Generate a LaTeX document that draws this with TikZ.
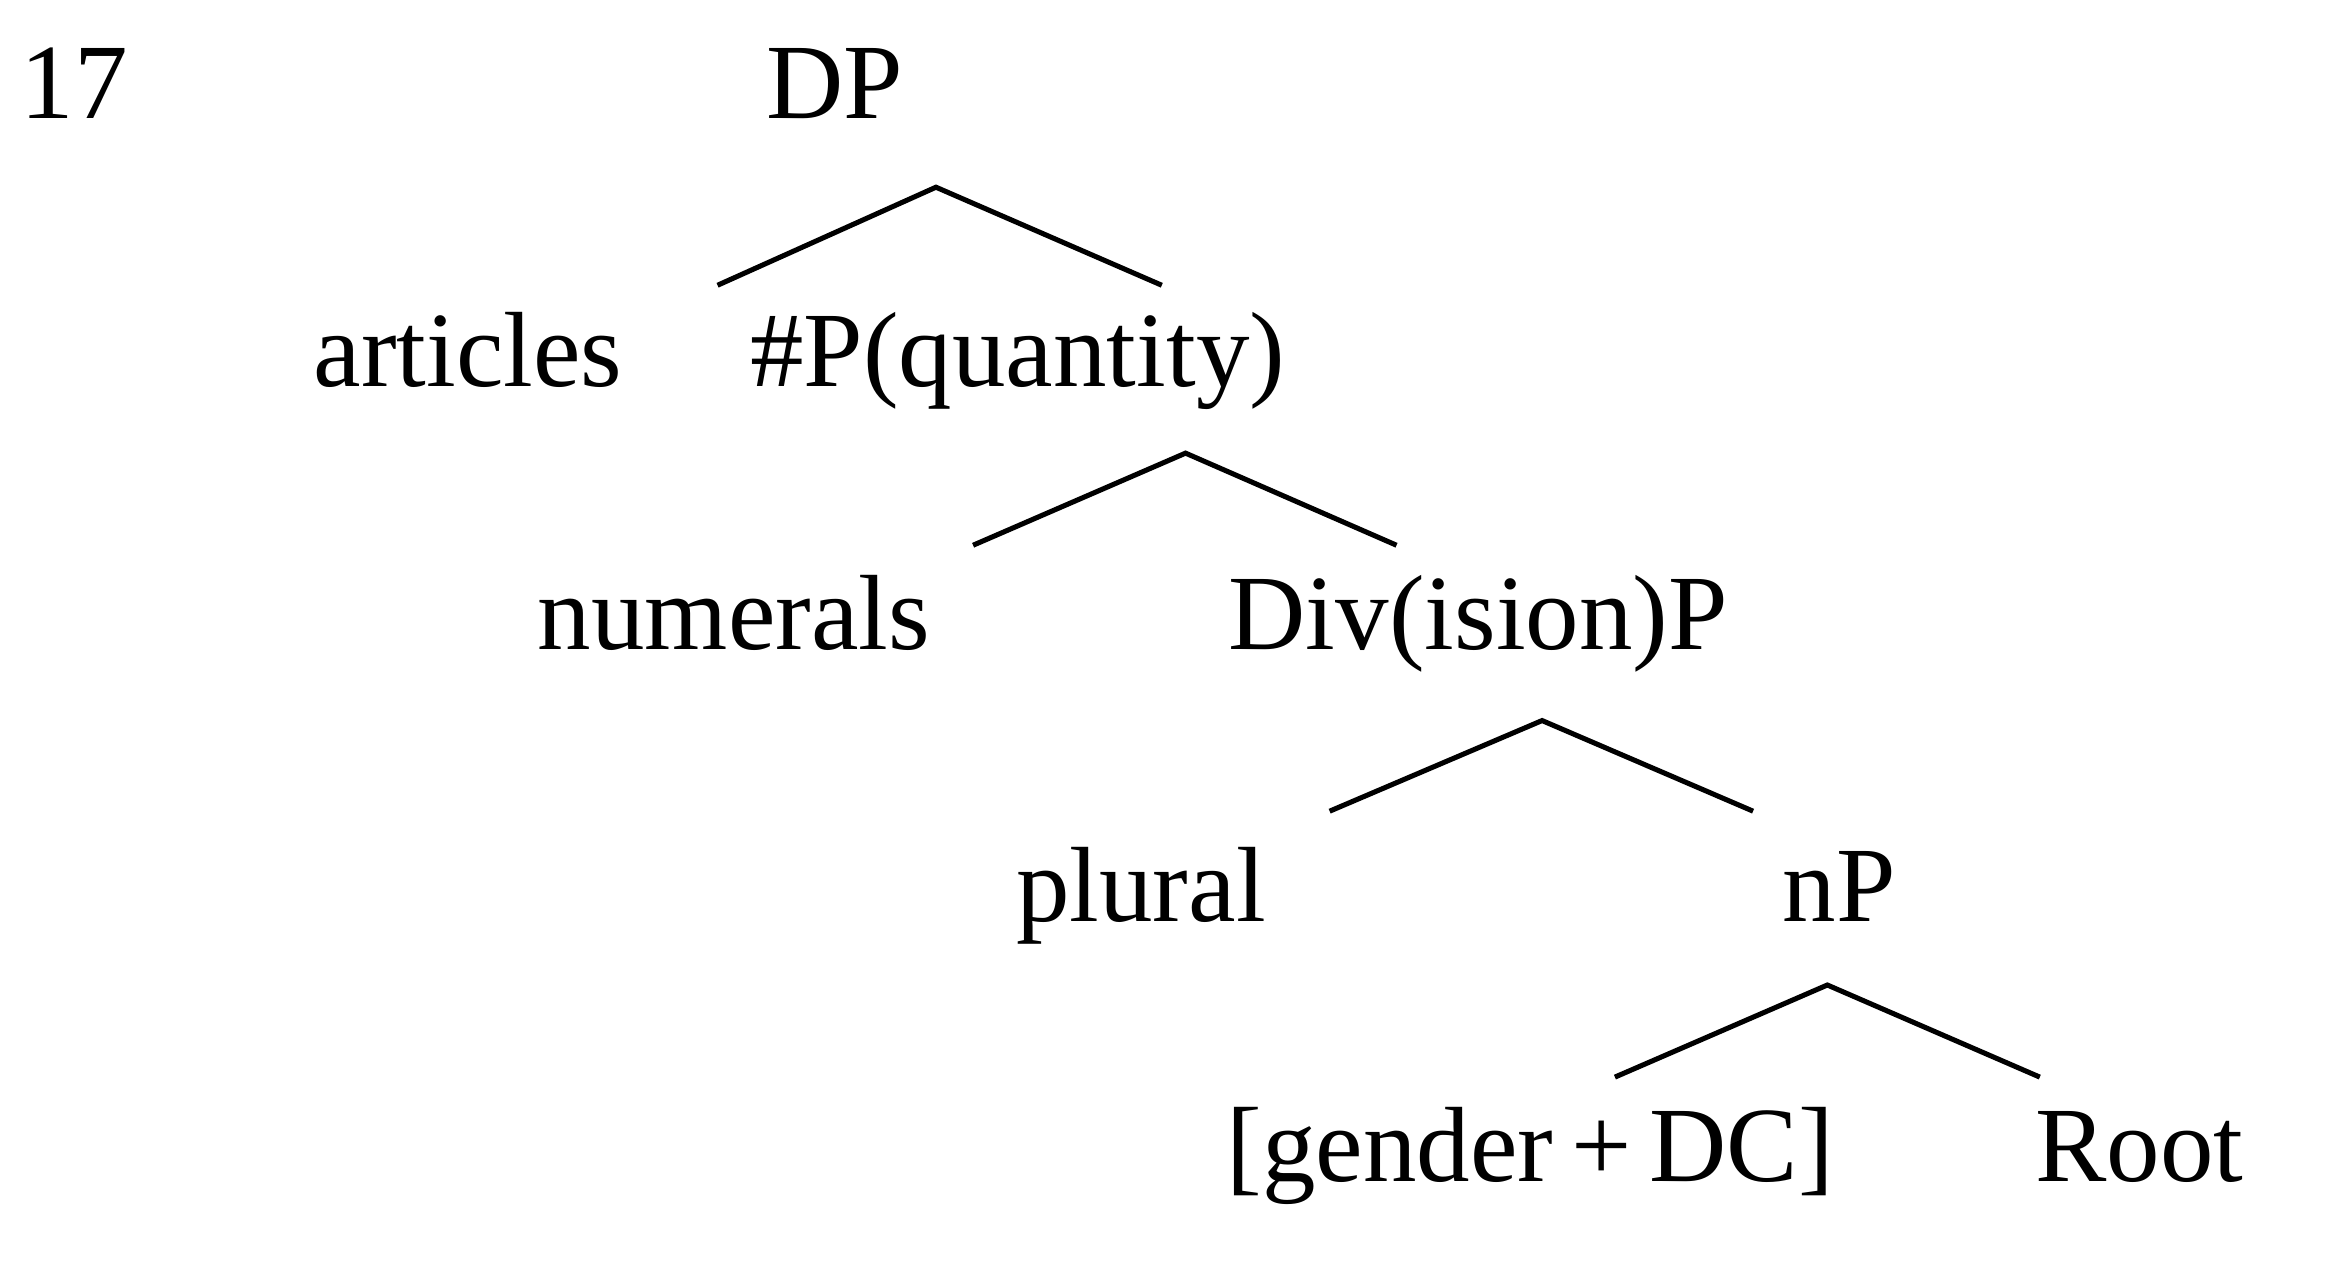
\documentclass[tikz,border=0pt]{standalone}
\usepackage{fontspec}
\setmainfont{Liberation Serif}
\begin{document}
\begin{tikzpicture}[x=0.5pt,y=-0.5pt,
  lab/.style={anchor=base,inner sep=0pt,font=\fontsize{36}{42}\selectfont},
  br/.style={line width=1.7pt}]
\useasboundingbox[fill=white] (0,0) rectangle (1567,858);
\node[lab] (n17) at (50,80) {17};
\node[lab] (dp) at (562,80) {DP};
\node[lab] (art) at (315,260) {articles};
\node[lab] (qp) at (685,260) {\#P(quantity)};
\node[lab] (num) at (494,437) {numerals};
\node[lab] (div) at (995,437) {Div(ision)P};
\node[lab] (pl) at (768,620) {plural};
\node[lab] (np) at (1238,620) {nP};
\node[lab] (gen) at (1030,795) {[gender\,+\,DC]};
\node[lab] (root) at (1440,795) {Root};
\coordinate (a0) at (630,126); \coordinate (a1) at (483,192); \coordinate (a2) at (782,192);
\coordinate (b0) at (798,305); \coordinate (b1) at (655,367); \coordinate (b2) at (940,367);
\coordinate (c0) at (1038,485); \coordinate (c1) at (895,546); \coordinate (c2) at (1180,546);
\coordinate (d0) at (1230,663); \coordinate (d1) at (1087,725); \coordinate (d2) at (1373,725);
\draw[br] (a1) -- (a0) -- (a2);
\draw[br] (b1) -- (b0) -- (b2);
\draw[br] (c1) -- (c0) -- (c2);
\draw[br] (d1) -- (d0) -- (d2);
\end{tikzpicture}
\end{document}
